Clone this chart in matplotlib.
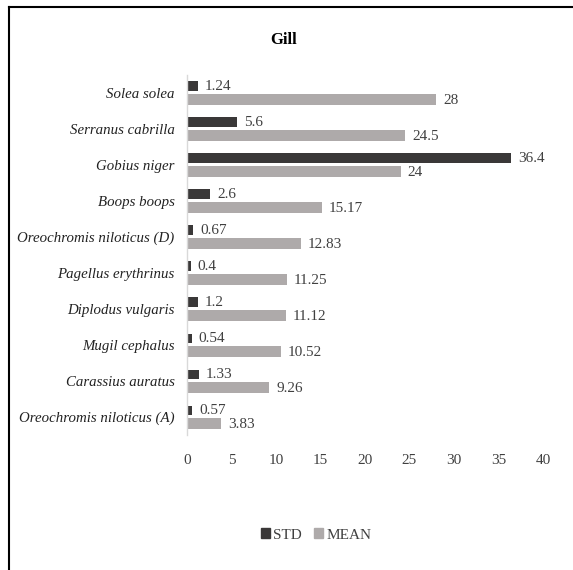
import numpy as np
import matplotlib
matplotlib.use("Agg")
import matplotlib.pyplot as plt
from matplotlib.lines import Line2D

species = ["Oreochromis niloticus (A)", "Carassius auratus", "Mugil cephalus", "Diplodus vulgaris",
           "Pagellus erythrinus", "Oreochromis niloticus (D)", "Boops boops", "Gobius niger",
           "Serranus cabrilla", "Solea solea"]
std_vals = [0.57, 1.33, 0.54, 1.2, 0.4, 0.67, 2.6, 36.4, 5.6, 1.24]
mean_vals = [3.83, 9.26, 10.52, 11.12, 11.25, 12.83, 15.17, 24, 24.5, 28]
std_labels = ["0.57", "1.33", "0.54", "1.2", "0.4", "0.67", "2.6", "36.4", "5.6", "1.24"]
mean_labels = ["3.83", "9.26", "10.52", "11.12", "11.25", "12.83", "15.17", "24", "24.5", "28"]
xticks = [0, 5, 10, 15, 20, 25, 30, 35, 40]

STD_C = "#3a3838"
MEAN_C = "#aeaaaa"
plt.rcParams["font.family"] = "Liberation Serif"

fig = plt.figure(figsize=(5.73, 5.70), dpi=100)
ax = fig.add_axes([187/573, 0.2368, (543-187)/573, 0.8684-0.2368])

y = np.arange(len(species))
h = 0.26
ax.barh(y + 0.19, std_vals, height=h, color=STD_C, label="STD")
ax.barh(y - 0.18, mean_vals, height=h + 0.04, color=MEAN_C, label="MEAN")

for yi, v, s in zip(y, std_vals, std_labels):
    ax.annotate(s, (v, yi + 0.19), xytext=(5, 0), textcoords="offset points",
                va="center", ha="left", fontsize=11, color="#404040")
for yi, v, s in zip(y, mean_vals, mean_labels):
    ax.annotate(s, (v, yi - 0.21), xytext=(5, 0), textcoords="offset points",
                va="center", ha="left", fontsize=11, color="#404040")

ax.set_xlim(0, 40)
ax.set_ylim(-0.5, len(species) - 0.5)
ax.set_xticks(xticks)
ax.set_xticklabels([str(t) for t in xticks], fontsize=11, color="#404040")
ax.set_yticks(y)
ax.set_yticklabels(species, fontsize=10.7, style="italic", color="#222222")
ax.tick_params(axis="both", length=0)
ax.tick_params(axis="x", pad=14)
ax.tick_params(axis="y", pad=9)
for side in ["top", "right", "bottom"]:
    ax.spines[side].set_visible(False)
ax.spines["left"].set_color("#d9d9d9")
ax.spines["left"].set_linewidth(1)

fig.text(284/573, 1 - 40/570, "Gill", ha="center", va="center", fontsize=12, fontweight="bold")

handles = [plt.Rectangle((0, 0), 1, 1, color=STD_C), plt.Rectangle((0, 0), 1, 1, color=MEAN_C)]
fig.legend(handles, ["STD", "MEAN"], loc="center", bbox_to_anchor=(316/573, 1 - 535/570),
           ncol=2, frameon=False, fontsize=11, handlelength=0.6, handleheight=0.6,
           handletextpad=0.2, columnspacing=0.8, labelcolor="#404040")

# outer frame: top and left edges
fig.add_artist(Line2D([9/573, 1], [1 - 7/570, 1 - 7/570], color="black", lw=1.5, transform=fig.transFigure))
fig.add_artist(Line2D([9/573, 9/573], [0, 1 - 7/570], color="black", lw=1.5, transform=fig.transFigure))

fig.savefig("out.png", dpi=100)
